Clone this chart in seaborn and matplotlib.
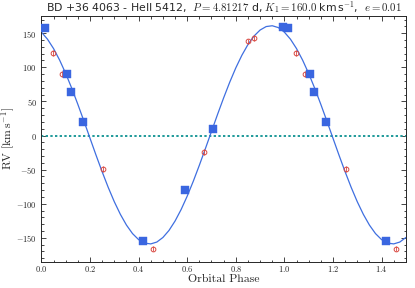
import numpy as np
import pandas as pd
import matplotlib
matplotlib.use("Agg")
import matplotlib.pyplot as plt
import seaborn as sns

# measured RVs (blue squares) and second data set (red circles), phase in [0, 1)
sq_phase = [0.993, 0.013, 0.104, 0.122, 0.172, 0.419, 0.591, 0.707]
sq_rv = [159, 157, 90, 64, 20, -155, -80, 9]

ci_phase = [0.049, 0.084, 0.252, 0.458, 0.669, 0.851, 0.876]
ci_rv = [121, 90, -49, -166, -24, 138, 143]
ci_err = 4

# orbital fit, every 0.025 in phase (0 .. 1.5)
fit_phase = [i * 0.025 for i in range(61)]
fit_one = [151.5, 141.2, 127.4, 110.5, 90.9, 69.1, 45.6, 21.1, -4.0, -29.0,
           -53.2, -76.1, -97.1, -115.6, -131.3, -143.8, -152.6, -157.7, -158.9, -156.2,
           -149.5, -139.2, -125.4, -108.5, -88.9, -67.1, -43.6, -19.1, 6.0, 31.0,
           55.2, 78.1, 99.1, 117.6, 133.3, 145.8, 154.6, 159.7, 160.9, 158.2]
fit_rv = fit_one + fit_one[:21]

sns.set_style("ticks")
plt.rcParams["mathtext.fontset"] = "cm"
plt.rcParams["axes.formatter.use_mathtext"] = True

squares = pd.DataFrame({"phase": sq_phase + [p + 1 for p in sq_phase],
                        "rv": sq_rv + sq_rv})
circles = pd.DataFrame({"phase": ci_phase + [p + 1 for p in ci_phase],
                        "rv": ci_rv + ci_rv})
fit = pd.DataFrame({"phase": fit_phase, "rv": fit_rv})

fig = plt.figure(figsize=(4.15, 2.88), dpi=100)
ax = fig.add_axes([0.0998, 0.0913, 0.8782, 0.8527])

ax.axhline(0, color="#1f9a9a", ls=(0, (1.2, 1.2)), lw=1.4, zorder=1)
sns.lineplot(data=fit, x="phase", y="rv", ax=ax, color="#3f6fe0", lw=0.9, zorder=2)
ax.errorbar(circles["phase"], circles["rv"], yerr=ci_err, fmt="o", ms=3.4,
            mfc="none", mec="#d9473f", mew=0.7, ecolor="#d9473f", elinewidth=0.6,
            capsize=0, zorder=3)
sns.scatterplot(data=squares, x="phase", y="rv", ax=ax, marker="s", s=26,
                color="#3a66e0", edgecolor="#3a66e0", linewidth=0.3, zorder=4)

ax.set_xlim(0, 1.5)
ax.set_ylim(-185, 175)
ax.set_xticks(np.arange(0, 1.41, 0.2))
ax.set_xticks(np.arange(0, 1.51, 0.05), minor=True)
ax.set_yticks(np.arange(-150, 151, 50))
ax.set_yticks(np.arange(-180, 171, 10), minor=True)
ax.tick_params(which="both", direction="in", top=True, right=True, labelsize=6,
               width=0.6)
ax.tick_params(which="major", length=3.5)
ax.tick_params(which="minor", length=1.8)
ax.tick_params(axis="x", pad=1.5)
for lab in ax.get_xticklabels() + ax.get_yticklabels():
    lab.set_fontfamily("cmr10")
for s in ax.spines.values():
    s.set_linewidth(0.7)

ax.set_xlabel("Orbital Phase", fontsize=8.5, family="cmr10")
ax.xaxis.set_label_coords(0.5, -0.053)
ax.set_ylabel(r"RV [km$\,$s$^{-1}$]", fontsize=8.5, family="cmr10")
ax.yaxis.set_label_coords(-0.066, 0.5)
ax.set_title(r"BD +36 4063 - HeII 5412,  $P=4.81217$ d, $K_1=160.0$ km$\,$s$^{-1}$,  $e=0.01$",
             fontsize=7.8, pad=3, family="DejaVu Sans")

fig.savefig("out.png", dpi=100)
